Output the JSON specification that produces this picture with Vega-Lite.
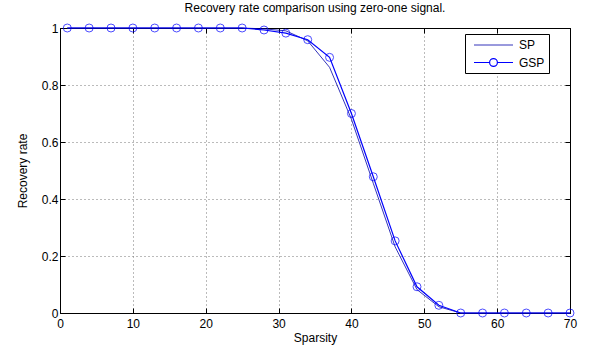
{
  "$schema": "https://vega.github.io/schema/vega-lite/v6.json",
  "width": 510,
  "height": 285,
  "autosize": {"type": "none"},
  "padding": {"left": 60, "top": 28, "right": 19, "bottom": 43},
  "background": "white",
  "config": {
    "font": "Liberation Sans",
    "view": {"stroke": "black", "strokeWidth": 1},
    "axis": {
      "labelFont": "Liberation Sans",
      "titleFont": "Liberation Sans",
      "labelFontSize": 12,
      "titleFontSize": 12,
      "titleFontWeight": "normal",
      "labelColor": "black",
      "titleColor": "black",
      "domainColor": "black",
      "tickColor": "black",
      "gridColor": "#777777",
      "gridDash": [1, 3],
      "gridOpacity": 1,
      "gridWidth": 1
    }
  },
  "title": {
    "text": "Recovery rate comparison using zero-one signal.",
    "fontSize": 12,
    "font": "Liberation Sans",
    "fontWeight": "normal",
    "color": "black",
    "anchor": "middle",
    "offset": 7
  },
  "data": {
    "values": [
      {"s": 1, "rate": 1, "series": "SP"},
      {"s": 4, "rate": 1, "series": "SP"},
      {"s": 7, "rate": 1, "series": "SP"},
      {"s": 10, "rate": 1, "series": "SP"},
      {"s": 13, "rate": 1, "series": "SP"},
      {"s": 16, "rate": 1, "series": "SP"},
      {"s": 19, "rate": 1, "series": "SP"},
      {"s": 22, "rate": 1, "series": "SP"},
      {"s": 25, "rate": 1, "series": "SP"},
      {"s": 28, "rate": 0.997, "series": "SP"},
      {"s": 31, "rate": 0.99, "series": "SP"},
      {"s": 34, "rate": 0.955, "series": "SP"},
      {"s": 37, "rate": 0.862, "series": "SP"},
      {"s": 40, "rate": 0.68, "series": "SP"},
      {"s": 43, "rate": 0.455, "series": "SP"},
      {"s": 46, "rate": 0.232, "series": "SP"},
      {"s": 49, "rate": 0.082, "series": "SP"},
      {"s": 52, "rate": 0.022, "series": "SP"},
      {"s": 55, "rate": 0, "series": "SP"},
      {"s": 58, "rate": 0, "series": "SP"},
      {"s": 61, "rate": 0, "series": "SP"},
      {"s": 64, "rate": 0, "series": "SP"},
      {"s": 67, "rate": 0, "series": "SP"},
      {"s": 70, "rate": 0, "series": "SP"},
      {"s": 1, "rate": 1, "series": "GSP"},
      {"s": 4, "rate": 1, "series": "GSP"},
      {"s": 7, "rate": 1, "series": "GSP"},
      {"s": 10, "rate": 1, "series": "GSP"},
      {"s": 13, "rate": 1, "series": "GSP"},
      {"s": 16, "rate": 1, "series": "GSP"},
      {"s": 19, "rate": 1, "series": "GSP"},
      {"s": 22, "rate": 1, "series": "GSP"},
      {"s": 25, "rate": 1, "series": "GSP"},
      {"s": 28, "rate": 0.993, "series": "GSP"},
      {"s": 31, "rate": 0.982, "series": "GSP"},
      {"s": 34, "rate": 0.959, "series": "GSP"},
      {"s": 37, "rate": 0.897, "series": "GSP"},
      {"s": 40, "rate": 0.7, "series": "GSP"},
      {"s": 43, "rate": 0.478, "series": "GSP"},
      {"s": 46, "rate": 0.253, "series": "GSP"},
      {"s": 49, "rate": 0.092, "series": "GSP"},
      {"s": 52, "rate": 0.027, "series": "GSP"},
      {"s": 55, "rate": 0, "series": "GSP"},
      {"s": 58, "rate": 0, "series": "GSP"},
      {"s": 61, "rate": 0, "series": "GSP"},
      {"s": 64, "rate": 0, "series": "GSP"},
      {"s": 67, "rate": 0, "series": "GSP"},
      {"s": 70, "rate": 0, "series": "GSP"}
    ]
  },
  "resolve": {"axis": {"x": "independent", "y": "independent"}},
  "layer": [
    {
      "mark": {"type": "line", "clip": false},
      "encoding": {
        "x": {
          "field": "s", "type": "quantitative",
          "scale": {"domain": [0, 70], "nice": false, "zero": false},
          "axis": {"orient": "bottom", "title": "Sparsity", "values": [0, 10, 20, 30, 40, 50, 60, 70], "tickSize": -5, "labelPadding": 10, "titlePadding": 3, "grid": true, "labelFlush": false}
        },
        "y": {
          "field": "rate", "type": "quantitative",
          "scale": {"domain": [0, 1], "nice": false},
          "axis": {"orient": "left", "title": "Recovery rate", "values": [0, 0.2, 0.4, 0.6, 0.8, 1], "labelExpr": "datum.value === 0 ? '0' : datum.value === 1 ? '1' : format(datum.value, '.1f')", "tickSize": -5, "labelPadding": 7, "titlePadding": 12, "grid": true, "labelFlush": false}
        },
        "color": {
          "field": "series", "type": "nominal",
          "scale": {"domain": ["SP", "GSP"], "range": ["#0000a8", "#0000ff"]},
          "legend": {
            "title": "\u00a0\u00a0\u00a0\u00a0",
            "titleOrient": "right",
            "titlePadding": 0,
            "titleFontSize": 12,
            "orient": "none",
            "legendX": 405,
            "legendY": 6,
            "direction": "vertical",
            "strokeColor": "black",
            "fillColor": "white",
            "padding": 4,
            "rowPadding": 4,
            "symbolSize": 169,
            "symbolType": "stroke",
            "symbolOffset": 17,
            "labelOffset": 19,
            "labelFontSize": 12,
            "labelFont": "Liberation Sans",
            "labelColor": "black",
            "labelAlign": "left",
            "encode": {
              "symbols": {
                "update": {
                  "shape": {"signal": "datum.value === 'GSP' ? 'M-3,0L-0.6,0M0.6,0L3,0M0.6,0A0.6,0.6,0,1,1,-0.6,0A0.6,0.6,0,1,1,0.6,0' : 'M-3,0L3,0'"},
                  "strokeWidth": {"value": 1},
                  "fill": {"value": "transparent"}
                }
              },
              "labels": {
                "update": {
                  "x": {"value": 50}
                }
              }
            }
          }
        },
        "strokeWidth": {
          "field": "series", "type": "nominal",
          "scale": {"domain": ["SP", "GSP"], "range": [0.8, 1.2]},
          "legend": null
        }
      }
    },
    {
      "transform": [{"filter": "datum.series === 'GSP'"}],
      "mark": {"type": "point", "shape": "circle", "filled": false, "size": 64, "color": "#0000ff", "strokeWidth": 1, "clip": false},
      "encoding": {
        "x": {
          "field": "s", "type": "quantitative",
          "scale": {"domain": [0, 70], "nice": false, "zero": false},
          "axis": {"orient": "top", "title": null, "labels": false, "values": [0, 10, 20, 30, 40, 50, 60, 70], "tickSize": -5, "grid": false}
        },
        "y": {
          "field": "rate", "type": "quantitative",
          "scale": {"domain": [0, 1], "nice": false},
          "axis": {"orient": "right", "title": null, "labels": false, "values": [0, 0.2, 0.4, 0.6, 0.8, 1], "tickSize": -5, "grid": false}
        }
      }
    }
  ]
}
